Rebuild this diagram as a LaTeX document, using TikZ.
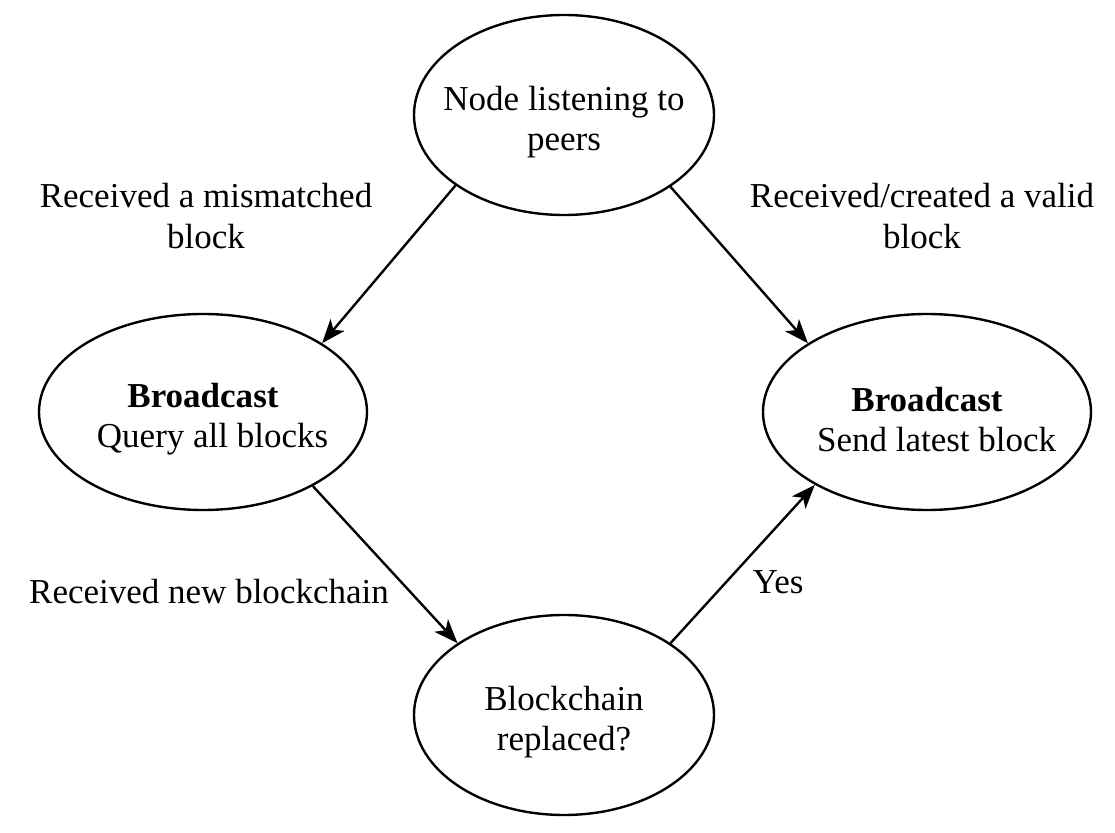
\documentclass[tikz,border=0pt]{standalone}
\usepackage{fontspec}
\setmainfont{Liberation Serif}
\usetikzlibrary{arrows.meta,shapes.geometric}

\begin{document}
\begin{tikzpicture}[line width=1.7pt, font=\fontsize{24.9}{28.5}\selectfont]
    \tikzstyle{state}=[ellipse,draw=black,inner sep=0pt]
    \tikzstyle{small state}=[state,minimum width=7.5cm,minimum height=5cm]
    \tikzstyle{wide state}=[state,minimum width=8.2cm,minimum height=4.9cm]
    \tikzstyle{statetext}=[align=center,yshift=-0.18cm]
    \tikzstyle{annot}=[align=center]
    \tikzstyle{arrow}=[-{Stealth[length=17pt,width=13pt,inset=4.5pt]}]

    \useasboundingbox (0,0) rectangle (27.875,20.8);

    % Draw the four states
    \node[small state, label={[statetext]center:Node listening to\\peers}] (listen) at (14.1,17.925) {};
    \node[wide state, label={[statetext]center:\textbf{Broadcast}\\\hspace*{0.55em}Query all blocks}] (query) at (5.075,10.5) {};
    \node[wide state, label={[statetext]center:\textbf{Broadcast}\\\hspace*{0.55em}Send latest block}] (send) at (23.175,10.5) {};
    \node[small state, label={[statetext]center:Blockchain\\replaced?}] (replaced) at (14.1,2.925) {};

    % Connect the states
    \foreach \from/\a/\to/\b in {listen/213.7/query/30.2, listen/326.3/send/150,
                                 query/326/replaced/146, replaced/34/send/213.7}
        \draw[arrow] (\from.\a) -- (\to.\b);

    % Annotate the transitions
    \node[annot] (mismatch) at (5.15,15.4) {Received a mismatched\\block};
    \node[annot] (valid) at (23.05,15.4) {Received/created a valid\\block};
    \node[annot] (newchain) at (5.225,6.0) {Received new blockchain};
    \node[annot] (yes) at (19.45,6.25) {Yes};
\end{tikzpicture}
\end{document}
